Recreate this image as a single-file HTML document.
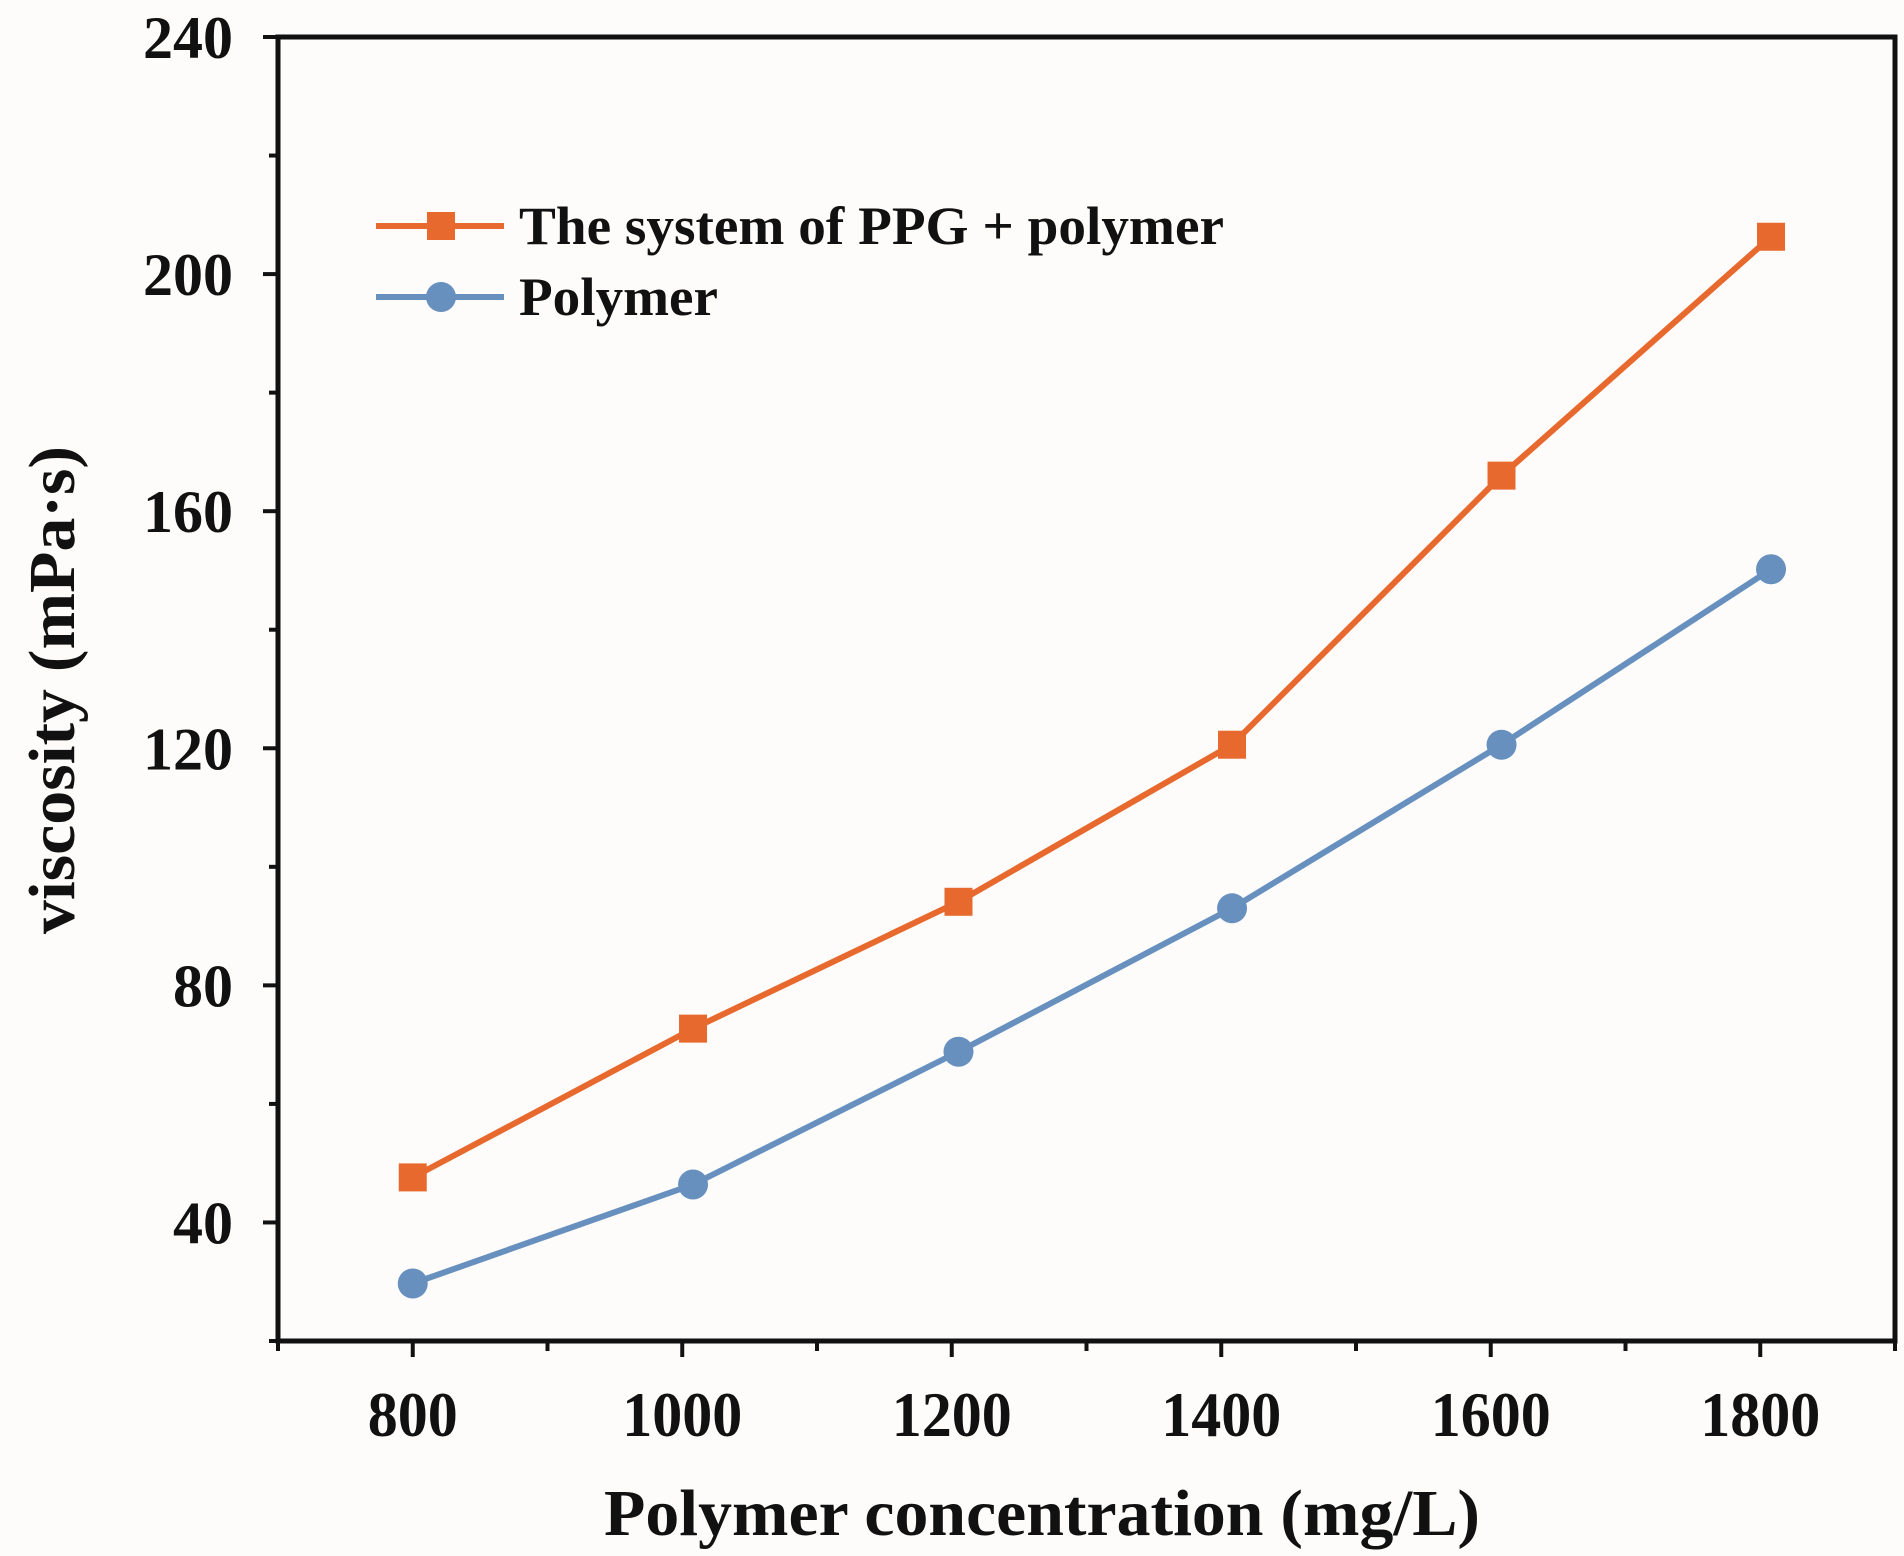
<!DOCTYPE html>
<html><head><meta charset="utf-8"><style>
html,body{margin:0;padding:0;background:#fdfcfb;}
svg{display:block;}
text{font-family:"Liberation Serif",serif;font-weight:bold;fill:#111;}
</style></head><body>
<svg id="chart" width="1904" height="1556" viewBox="0 0 1904 1556" xmlns="http://www.w3.org/2000/svg">
<rect width="1904" height="1556" fill="#fdfcfb"/>
<g id="marks"></g>
<rect x="278" y="37" width="1617" height="1304" fill="none" stroke="#111" stroke-width="5"/>
<g id="axes"></g>
<text x="1042" y="1535" font-size="66" text-anchor="middle" textLength="876" lengthAdjust="spacingAndGlyphs">Polymer concentration (mg/L)</text>
<text x="0" y="0" font-size="66" text-anchor="middle" textLength="488" lengthAdjust="spacingAndGlyphs" transform="translate(74,690) rotate(-90)">viscosity (mPa·s)</text>
<g>
<line x1="376" y1="226" x2="504" y2="226" stroke="#E8692E" stroke-width="6"/>
<rect x="427" y="212" width="28" height="28" fill="#E8692E"/>
<text x="519" y="244" font-size="54" textLength="705" lengthAdjust="spacingAndGlyphs">The system of PPG + polymer</text>
<line x1="376" y1="297" x2="504" y2="297" stroke="#6790BF" stroke-width="6"/>
<circle cx="441" cy="297" r="15" fill="#6790BF"/>
<text x="519" y="315" font-size="54" textLength="199" lengthAdjust="spacingAndGlyphs">Polymer</text>
</g>
</svg>
<script>
const categories = [800, 1008, 1205, 1408, 1608, 1808];
const ppgValues = [47.6, 72.7, 94.1, 120.6, 166.0, 206.3];
const polymerValues = [29.7, 46.4, 68.8, 93.0, 120.6, 150.2];
const xTickLabels = [800, 1000, 1200, 1400, 1600, 1800];
const yTickLabels = [40, 80, 120, 160, 200, 240];

const NS = "http://www.w3.org/2000/svg";
const L = 278, R = 1895, T = 37, B = 1341;
const xMin = 700, xMax = 1900, yMin = 20, yMax = 240;
function xs(v){ return L + (v - xMin) / (xMax - xMin) * (R - L); }
function ys(v){ return B - (v - yMin) / (yMax - yMin) * (B - T); }
function mk(tag, attrs){ const e = document.createElementNS(NS, tag); for (const k in attrs) e.setAttribute(k, attrs[k]); return e; }

const axes = document.getElementById('axes');
const marks = document.getElementById('marks');

for (let v = yMin; v <= yMax; v += 20) {
  const major = v % 40 === 0;
  const t = mk('line', {x1: L - (major ? 15 : 9), x2: L, y1: ys(v), y2: ys(v), stroke: '#111', 'stroke-width': 4});
  
  
  axes.appendChild(t);
}
yTickLabels.forEach(v => {
  const tx = mk('text', {x: 233, y: ys(v) + 21, 'font-size': 60, 'text-anchor': 'end'});
  tx.textContent = v;
  
  
  axes.appendChild(tx);
});
for (let v = xMin; v <= xMax; v += 100) {
  const major = v % 200 === 0;
  const t = mk('line', {x1: xs(v), x2: xs(v), y1: B, y2: B + (major ? 16 : 10), stroke: '#111', 'stroke-width': 4});
  
  
  axes.appendChild(t);
}
xTickLabels.forEach(v => {
  const tx = mk('text', {x: xs(v), y: 1436, 'font-size': 64, 'text-anchor': 'middle', textLength: String(v).length * 30, lengthAdjust: 'spacingAndGlyphs'});
  tx.textContent = v;
  
  
  axes.appendChild(tx);
});

function series(vals, color, kind, name){
  const pts = categories.map((c, i) => xs(c) + ',' + ys(vals[i])).join(' ');
  const pl = mk('polyline', {points: pts, fill: 'none', stroke: color, 'stroke-width': 6});
  
  
  marks.appendChild(pl);
  categories.forEach((c, i) => {
    let m;
    if (kind === 'square') m = mk('rect', {x: xs(c) - 14, y: ys(vals[i]) - 14, width: 28, height: 28, fill: color});
    else m = mk('circle', {cx: xs(c), cy: ys(vals[i]), r: 15, fill: color});
    
    
    marks.appendChild(m);
  });
}
series(ppgValues, '#E8692E', 'square', 'ppg-polymer');
series(polymerValues, '#6790BF', 'circle', 'polymer');
</script>
</body></html>
